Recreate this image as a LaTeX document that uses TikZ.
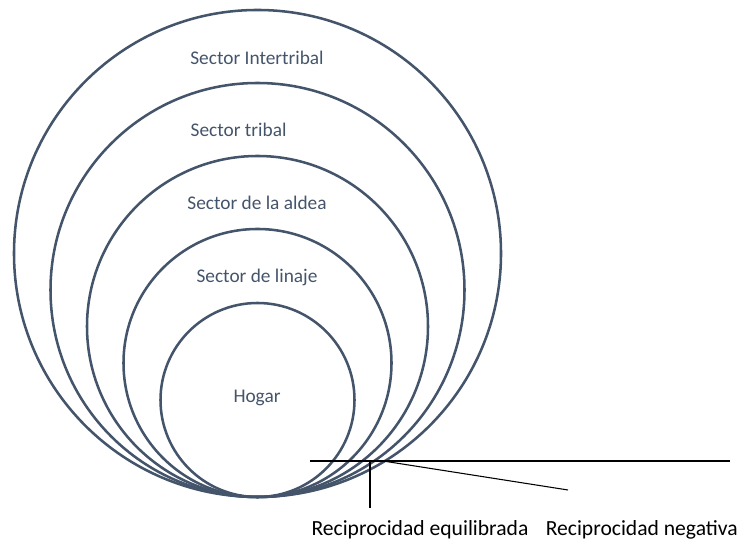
\documentclass[tikz,border=0pt]{standalone}
\usepackage{fontspec}
\setmainfont{Carlito}
\usepackage{xcolor}
\usetikzlibrary{positioning}
\definecolor{ringblue}{HTML}{44546A}

\begin{document}
\begin{tikzpicture}[x=0.75pt,y=0.75pt,
	ring/.style={draw=ringblue, line width=1.9pt},
	sectorlabel/.style={text=ringblue, font=\fontsize{14.5}{17}\selectfont},
	reclabel/.style={font=\fontsize{16.2}{19}\selectfont},
	recline/.style={draw=black, line width=0.8pt}]
			\useasboundingbox (0,0) rectangle (739,541);
			\coordinate (base) at (257.5,44);
			\foreach \r in {97,134,170.5,207,243.5}
				\draw[ring] (base) ++(0,\r) circle (\r);
			\node[sectorlabel] (intertribal) at (257,483) {Sector Intertribal};
			\node[sectorlabel,anchor=west] (tribal) at (186,411) {Sector tribal};
			\node[sectorlabel] (aldea) at (257,338) {Sector de la aldea};
			\node[sectorlabel] (linaje) at (257,264) {Sector de linaje};
			\node[sectorlabel] (hogar) at (257,143) {Hogar};
			\node[reclabel] (equil) at (420,11) {Reciprocidad equilibrada};
			\node[reclabel,anchor=east,inner xsep=0pt] (negat) at (738,11) {Reciprocidad negativa};
			\coordinate (hleft) at (310,80);
			\coordinate (hright) at (730,80);
			\coordinate (vtop) at (370,80);
			\coordinate (vbot) at (370,33);
			\coordinate (dstart) at (383,80);
			\coordinate (dend) at (568,51);
			\draw[recline] (hleft) -- (hright);
			\draw[recline] (vtop) -- (vbot);
			\draw[recline] (dstart) -- (dend);
		\end{tikzpicture}
\end{document}
